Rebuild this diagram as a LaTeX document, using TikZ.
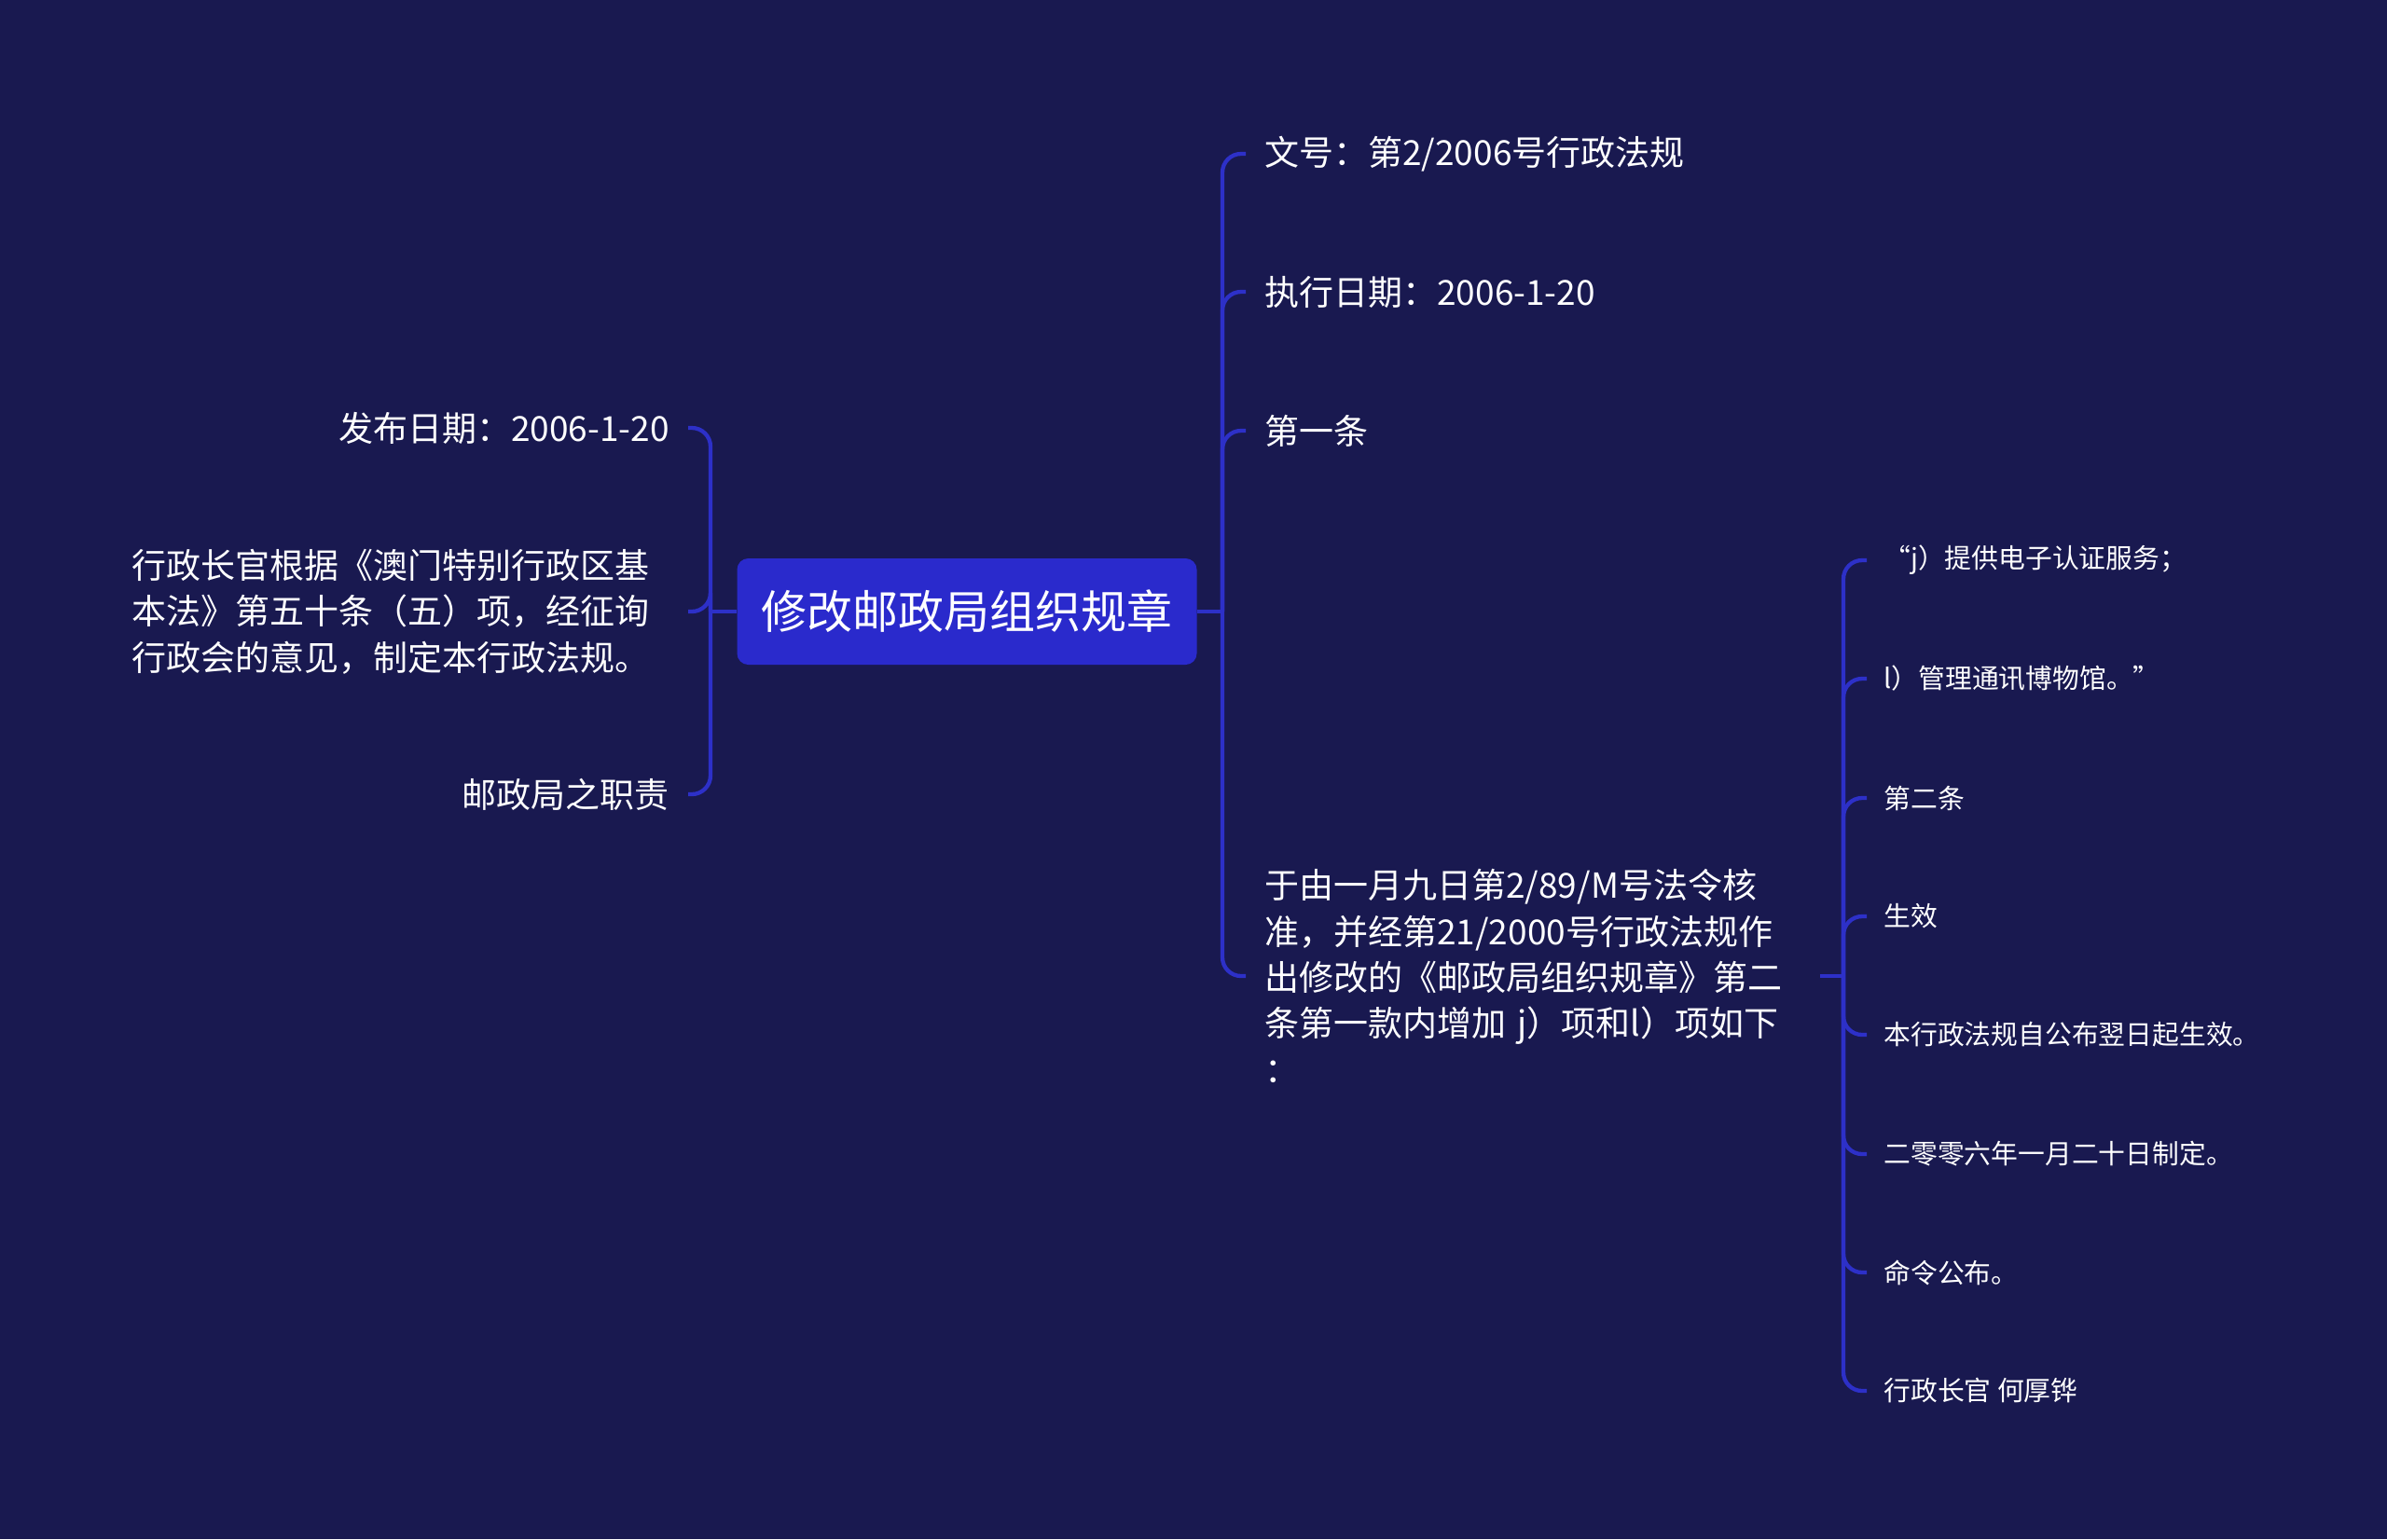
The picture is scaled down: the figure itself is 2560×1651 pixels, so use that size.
\documentclass[tikz,border=0pt]{standalone}
\usepackage{fontspec}
\setmainfont{Noto Sans CJK SC}
\usetikzlibrary{positioning}
\definecolor{bgnavy}{RGB}{25,25,80}
\definecolor{rootblue}{RGB}{42,42,204}
\definecolor{linkblue}{RGB}{45,48,200}

\begin{document}
\begin{tikzpicture}[x=0.5pt, y=-0.5pt,
  every node/.style={text=white, inner sep=0pt},
  root/.style={fill=rootblue, rounded corners=6pt, minimum width=246.5pt, minimum height=57pt, font=\fontsize{24.5}{30}\selectfont},
  topic/.style={inner xsep=10pt, inner ysep=2pt, font=\fontsize{18.5}{24.7}\selectfont, align=left},
  leaf/.style={inner xsep=9pt, inner ysep=2pt, font=\fontsize{14.4}{18}\selectfont},
  link/.style={draw=linkblue, line width=2.15pt, rounded corners=10pt}]
\fill[bgnavy] (0,0) rectangle (2560,1651);
\useasboundingbox (0,0) rectangle (2560,1651);
\node[root] (root) at (1037,656) {修改邮政局组织规章};
\coordinate (ls) at (762,656);
\coordinate (rs) at (1311,656);
% left side
\node[topic, anchor=east] (pub) at (738,459) {发布日期：2006-1-20};
\node[topic, anchor=east, text width=288pt] (basis) at (738,656) {行政长官根据《澳门特别行政区基\\本法》第五十条（五）项，经征询\\行政会的意见，制定本行政法规。};
\node[topic, anchor=east] (duty) at (738,852) {邮政局之职责};
% right side
\node[topic, anchor=west] (docno) at (1336,165) {文号：第2/2006号行政法规};
\node[topic, anchor=west] (exec) at (1336,313) {执行日期：2006-1-20};
\node[topic, anchor=west] (art1) at (1336,462) {第一条};
\node[topic, anchor=west, text width=287.5pt] (amend) at (1336,1047) {于由一月九日第2/89/M号法令核\\准，并经第21/2000号行政法规作\\出修改的《邮政局组织规章》第二\\条第一款内增加 j）项和l）项如下\\：};
\coordinate (ss) at (1977,1047);
\node[leaf, anchor=west] (jitem) at (2002,601) {“j）提供电子认证服务；};
\node[leaf, anchor=west] (litem) at (2002,728) {l）管理通讯博物馆。”};
\node[leaf, anchor=west] (art2) at (2002,856) {第二条};
\node[leaf, anchor=west] (effect) at (2002,983) {生效};
\node[leaf, anchor=west] (selfeff) at (2002,1110) {本行政法规自公布翌日起生效。};
\node[leaf, anchor=west] (made) at (2002,1238) {二零零六年一月二十日制定。};
\node[leaf, anchor=west] (promul) at (2002,1365) {命令公布。};
\node[leaf, anchor=west] (chief) at (2002,1492) {行政长官 何厚铧};
% connectors
\draw[link] (root.west) -- (ls);
\draw[link] (ls) |- (pub.east);
\draw[link] (ls) |- (basis.east);
\draw[link] (ls) |- (duty.east);
\draw[link] (root.east) -- (rs);
\draw[link] (rs) |- (docno.west);
\draw[link] (rs) |- (exec.west);
\draw[link] (rs) |- (art1.west);
\draw[link] (rs) |- (amend.west);
\draw[link] (amend.east) -- (ss);
\draw[link] (ss) |- (jitem.west);
\draw[link] (ss) |- (litem.west);
\draw[link] (ss) |- (art2.west);
\draw[link] (ss) |- (effect.west);
\draw[link] (ss) |- (selfeff.west);
\draw[link] (ss) |- (made.west);
\draw[link] (ss) |- (promul.west);
\draw[link] (ss) |- (chief.west);
\end{tikzpicture}
\end{document}
